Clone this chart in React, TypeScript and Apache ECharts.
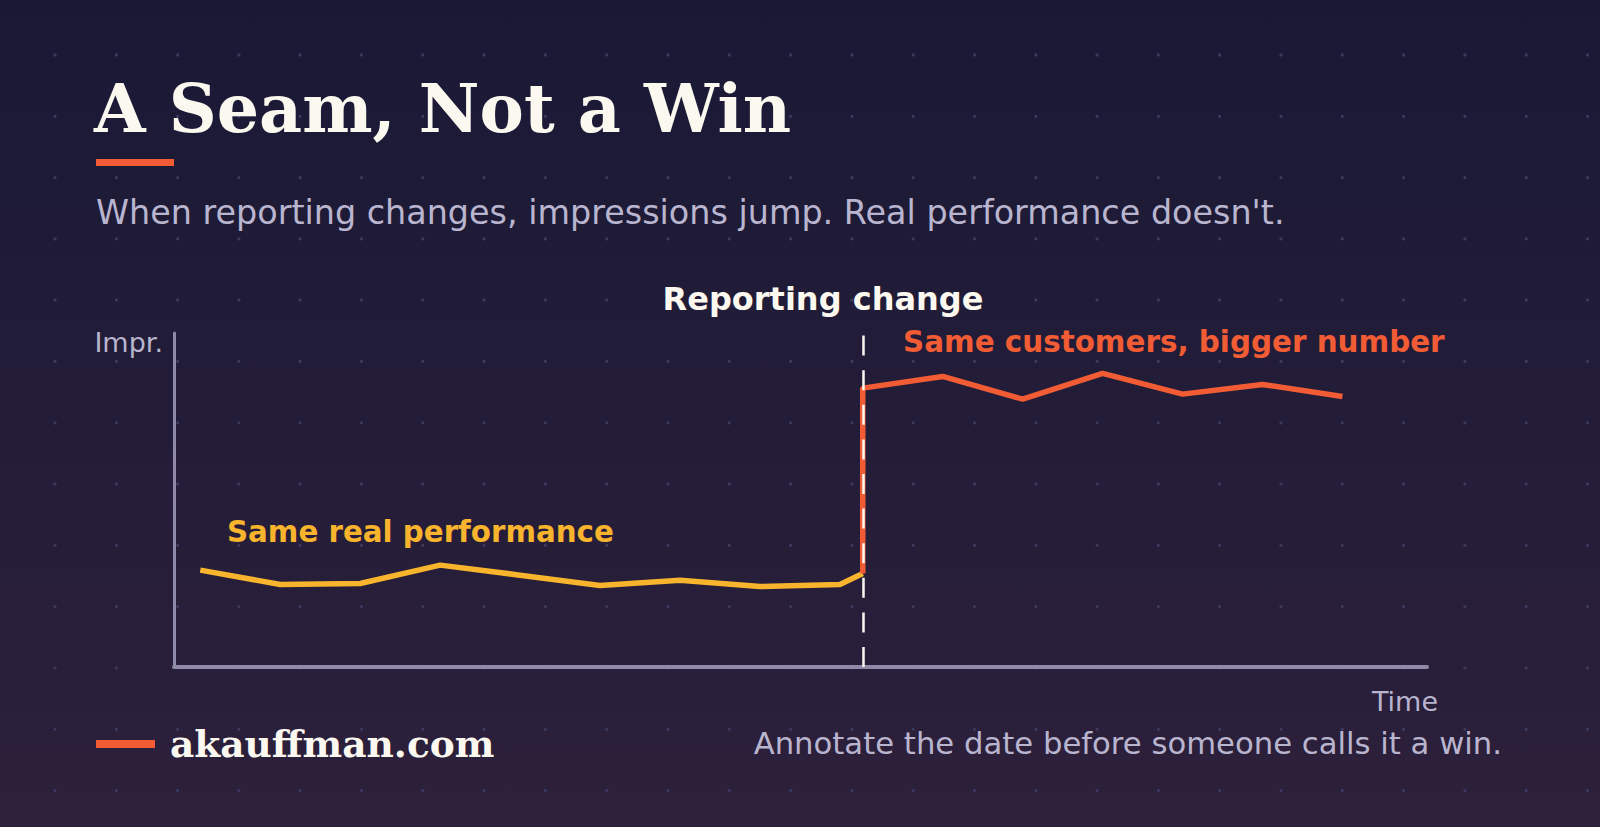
import React, { useEffect, useRef } from 'react';
import * as echarts from 'echarts';

// x = days since start, y = impressions (index, 0-100)
const realDays = [0, 7, 14, 21, 28, 35, 42, 49, 56, 58];
const realImpr = [29.0, 24.7, 25.0, 30.5, 27.5, 24.4, 26.0, 24.1, 24.7, 28.0];
const reportedDays = [58, 58, 65, 72, 79, 86, 93, 100];
const reportedImpr = [28.0, 83.5, 87.0, 80.2, 87.9, 81.7, 84.6, 81.0];
const changeDay = 58;

const titleText = 'A Seam, Not a Win';
const subtitleText = "When reporting changes, impressions jump. Real performance doesn't.";
const changeLabel = 'Reporting change';
const realLabel = 'Same real performance';
const reportedLabel = 'Same customers, bigger number';
const yName = 'Impr.';
const xName = 'Time';
const siteName = 'akauffman.com';
const footnote = 'Annotate the date before someone calls it a win.';

const ORANGE = '#f25c34';
const YELLOW = '#f7b42c';
const CREAM = '#fbf8f0';
const MUTED = '#b9b5cf';
const AXIS = '#8e8aa8';
const SANS = '"DejaVu Sans", sans-serif';
const SERIF = '"DejaVu Serif", serif';

const App: React.FC = () => {
  const chartRef = useRef<HTMLDivElement>(null);

  useEffect(() => {
    const chart = echarts.init(chartRef.current!, null, { renderer: 'svg' });

    // faint dot grid behind everything
    const dots: any[] = [];
    for (let r = 0; r < 13; r++) {
      for (let c = 0; c < 26; c++) {
        dots.push({
          type: 'circle',
          z: -1,
          silent: true,
          shape: { cx: 55 + c * 61.3, cy: 55 + r * 61.3, r: 1.6 },
          style: { fill: '#3b3a5e' },
        });
      }
    }

    const txt = (text: string, x: number, y: number, size: number, color: string, opts: any = {}) => ({
      type: 'text',
      z: 10,
      silent: true,
      x,
      y,
      style: {
        text,
        fill: color,
        fontSize: size,
        fontFamily: opts.family || SANS,
        fontWeight: opts.weight || 'normal',
        align: opts.align || 'left',
        verticalAlign: 'middle',
      },
    });

    const options = {
      animation: false,
      backgroundColor: 'transparent',
      grid: { left: 174, right: 173, top: 333, bottom: 160 },
      xAxis: {
        type: 'value',
        min: -2.3,
        max: 107.4,
        axisLine: { show: true, onZero: false, lineStyle: { color: AXIS, width: 4 } },
        axisTick: { show: false },
        axisLabel: { show: false },
        splitLine: { show: false },
      },
      yAxis: {
        type: 'value',
        min: 0,
        max: 100,
        axisLine: { show: true, onZero: false, lineStyle: { color: AXIS, width: 3 } },
        axisTick: { show: false },
        axisLabel: { show: false },
        splitLine: { show: false },
      },
      graphic: [
        ...dots,
        txt(titleText, 94, 108.5, 66.5, CREAM, { family: SERIF, weight: 'bold' }),
        { type: 'rect', z: 10, silent: true, shape: { x: 96, y: 159, width: 78, height: 7 }, style: { fill: ORANGE } },
        txt(subtitleText, 96, 212, 33.4, MUTED),
        txt(changeLabel, 823, 299.3, 32, CREAM, { weight: 'bold', align: 'center' }),
        txt(yName, 163, 342, 27, MUTED, { align: 'right' }),
        txt(xName, 1438, 701, 27, MUTED, { align: 'right' }),
        txt(realLabel, 227, 531.7, 29.3, YELLOW, { weight: 'bold' }),
        txt(reportedLabel, 903, 342.3, 29.4, ORANGE, { weight: 'bold' }),
        { type: 'rect', z: 10, silent: true, shape: { x: 96, y: 740, width: 59, height: 8 }, style: { fill: ORANGE } },
        txt(siteName, 170, 744, 37.5, CREAM, { family: SERIF, weight: 'bold' }),
        txt(footnote, 1502, 743.3, 30.7, MUTED, { align: 'right' }),
      ],
      series: [
        {
          name: 'Real',
          type: 'line',
          z: 2,
          showSymbol: false,
          silent: true,
          data: realDays.map((d, i) => [d, realImpr[i]]),
          lineStyle: { color: YELLOW, width: 5.5 },
        },
        {
          name: 'Reported',
          type: 'line',
          z: 3,
          showSymbol: false,
          silent: true,
          data: reportedDays.map((d, i) => [d, reportedImpr[i]]),
          lineStyle: { color: ORANGE, width: 5.5 },
          markLine: {
            symbol: 'none',
            silent: true,
            z: 5,
            label: { show: false },
            lineStyle: { color: CREAM, width: 2.5, type: [20, 14.6] },
            emphasis: { disabled: true },
            data: [{ xAxis: changeDay }],
          },
        },
      ],
    };

    chart.setOption(options as any);

    return () => {
      chart.dispose();
    };
  }, []);

  return (
    <div
      ref={chartRef}
      style={{
        position: 'fixed',
        left: 0,
        top: 0,
        width: '1600px',
        height: '827px',
        background: 'linear-gradient(180deg, #191935 0%, #2d203b 100%)',
      }}
    />
  );
};

export default App;
